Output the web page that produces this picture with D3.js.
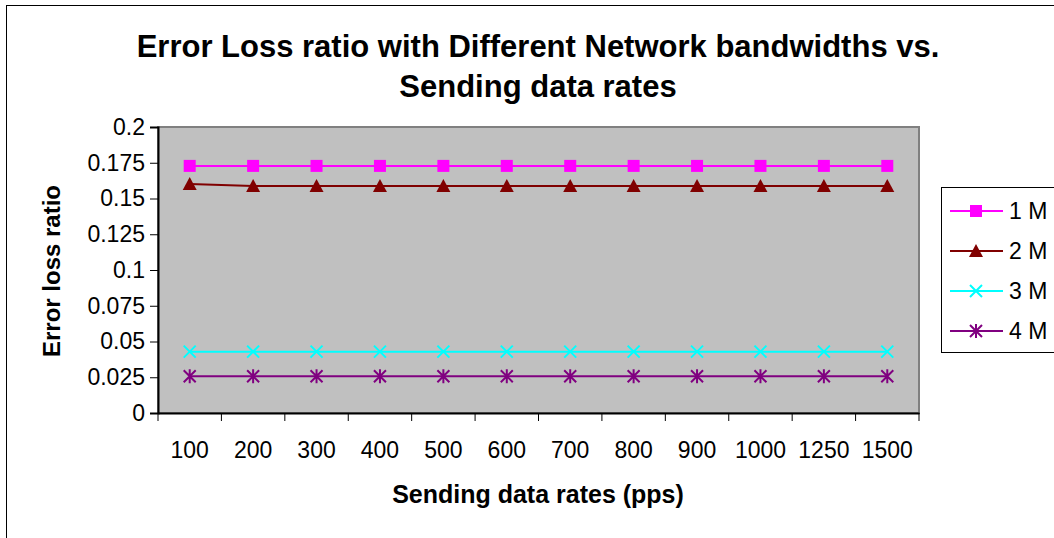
<!DOCTYPE html>
<html>
<head>
<meta charset="utf-8">
<script src="https://cdn.jsdelivr.net/npm/d3@7"></script>
<style>
  body { margin: 0; background: #fff; }
  svg { display: block; font-family: "Liberation Sans", Arial, sans-serif; }
</style>
</head>
<body>
<script>
const categories = ["100", "200", "300", "400", "500", "600", "700", "800", "900", "1000", "1250", "1500"];
const yTicks = [0, 0.025, 0.05, 0.075, 0.1, 0.125, 0.15, 0.175, 0.2];
const seriesNames = ["1 M", "2 M", "3 M", "4 M"];
const values1M = [0.1728, 0.1728, 0.1728, 0.1728, 0.1728, 0.1728, 0.1728, 0.1728, 0.1728, 0.1728, 0.1728, 0.1728];
const values2M = [0.1601, 0.1588, 0.1588, 0.1588, 0.1588, 0.1588, 0.1588, 0.1588, 0.1588, 0.1588, 0.1588, 0.1588];
const values3M = [0.0429, 0.0429, 0.0429, 0.0429, 0.0429, 0.0429, 0.0429, 0.0429, 0.0429, 0.0429, 0.0429, 0.0429];
const values4M = [0.0257, 0.0257, 0.0257, 0.0257, 0.0257, 0.0257, 0.0257, 0.0257, 0.0257, 0.0257, 0.0257, 0.0257];
const seriesColors = ["#FF00FF", "#800000", "#00FFFF", "#800080"];
const seriesMarkers = ["square", "triangle", "x", "star"];

const W = 1054, H = 538;
const plot = { left: 158, top: 127, right: 919, bottom: 413 };

const svg = d3.select("body").append("svg").attr("width", W).attr("height", H);

// outer chart frame (runs off the right and bottom of the picture)
svg.append("rect")
  .attr("x", 6.5).attr("y", 5.5)
  .attr("width", W + 10).attr("height", H + 10)
  .attr("fill", "#fff").attr("stroke", "#000").attr("stroke-width", 1);

const x = d3.scaleBand().domain(categories).range([plot.left, plot.right]);
const y = d3.scaleLinear().domain([0, 0.2]).range([plot.bottom, plot.top]);

// plot area
svg.append("rect")
  .attr("x", plot.left).attr("y", plot.top)
  .attr("width", plot.right - plot.left).attr("height", plot.bottom - plot.top)
  .attr("fill", "#C0C0C0").attr("stroke", "#808080").attr("stroke-width", 2);

// title
const title = svg.append("text")
  .attr("text-anchor", "middle")
  .attr("font-size", 31).attr("font-weight", "bold").attr("fill", "#000");
title.append("tspan").attr("x", 538).attr("y", 57).text("Error Loss ratio with Different Network bandwidths vs.");
title.append("tspan").attr("x", 538).attr("y", 97).text("Sending data rates");

// axes
const yAxis = d3.axisLeft(y).tickValues(yTicks).tickSize(8).tickPadding(5)
  .tickFormat((d) => String(+d.toFixed(3)));
const yG = svg.append("g").attr("transform", `translate(${plot.left},0)`).call(yAxis);

const xAxis = d3.axisBottom(x).tickSize(0);
const xG = svg.append("g").attr("transform", `translate(0,${plot.bottom})`).call(xAxis);

[yG, xG].forEach((g) => {
  g.select(".domain").attr("stroke", "#000").attr("stroke-width", 2);
  g.selectAll("line").attr("stroke", "#000");
  g.selectAll("text").attr("font-size", 23).attr("fill", "#000")
    .attr("font-family", "Liberation Sans, Arial, sans-serif");
});
xG.selectAll(".tick text").attr("dy", null).attr("y", 45);

// x tick marks between categories
xG.selectAll(".sep")
  .data(d3.range(categories.length + 1))
  .join("line")
  .attr("class", "sep")
  .attr("x1", (i) => plot.left + i * x.step())
  .attr("x2", (i) => plot.left + i * x.step())
  .attr("y1", 0).attr("y2", 8)
  .attr("stroke", "#000");

// axis titles
svg.append("text")
  .attr("x", 538).attr("y", 503)
  .attr("text-anchor", "middle")
  .attr("font-size", 25).attr("font-weight", "bold")
  .text("Sending data rates (pps)");

svg.append("text")
  .attr("transform", `translate(60,${(plot.top + plot.bottom) / 2 + 1}) rotate(-90)`)
  .attr("text-anchor", "middle")
  .attr("font-size", 24).attr("font-weight", "bold")
  .text("Error loss ratio");

const drawMarker = (g, type, color) => {
  if (type === "square") {
    g.append("rect").attr("x", -6).attr("y", -6).attr("width", 12).attr("height", 12).attr("fill", color);
  } else if (type === "triangle") {
    g.append("path").attr("d", "M0,-7L7,6L-7,6Z").attr("fill", color);
  } else if (type === "x") {
    g.append("path").attr("d", "M-6,-6L6,6M-6,6L6,-6").attr("stroke", color).attr("stroke-width", 2);
  } else {
    g.append("path").attr("d", "M-6,-6L6,6M-6,6L6,-6M0,-7L0,7").attr("stroke", color).attr("stroke-width", 2);
  }
};

const allSeries = [values1M, values2M, values3M, values4M];
const line = d3.line()
  .x((d, i) => x(categories[i]) + x.bandwidth() / 2)
  .y((d) => y(d));

allSeries.forEach((vals, s) => {
  svg.append("path")
    .attr("d", line(vals))
    .attr("fill", "none")
    .attr("stroke", seriesColors[s])
    .attr("stroke-width", 2);
  vals.forEach((v, i) => {
    const g = svg.append("g")
      .attr("transform", `translate(${x(categories[i]) + x.bandwidth() / 2},${y(v)})`);
    drawMarker(g, seriesMarkers[s], seriesColors[s]);
  });
});

// legend
const legend = svg.append("g");
legend.append("rect")
  .attr("x", 941.5).attr("y", 187.5)
  .attr("width", 130).attr("height", 165)
  .attr("fill", "#fff").attr("stroke", "#000");

seriesNames.forEach((name, s) => {
  const ly = 211 + s * 40;
  const item = legend.append("g");
  item.append("line")
    .attr("x1", 950).attr("x2", 1003).attr("y1", ly).attr("y2", ly)
    .attr("stroke", seriesColors[s]).attr("stroke-width", 2);
  drawMarker(item.append("g").attr("transform", `translate(976,${ly})`), seriesMarkers[s], seriesColors[s]);
  item.append("text")
    .attr("x", 1009).attr("y", ly + 8)
    .attr("font-size", 23)
    .text(name);
});
</script>
</body>
</html>
